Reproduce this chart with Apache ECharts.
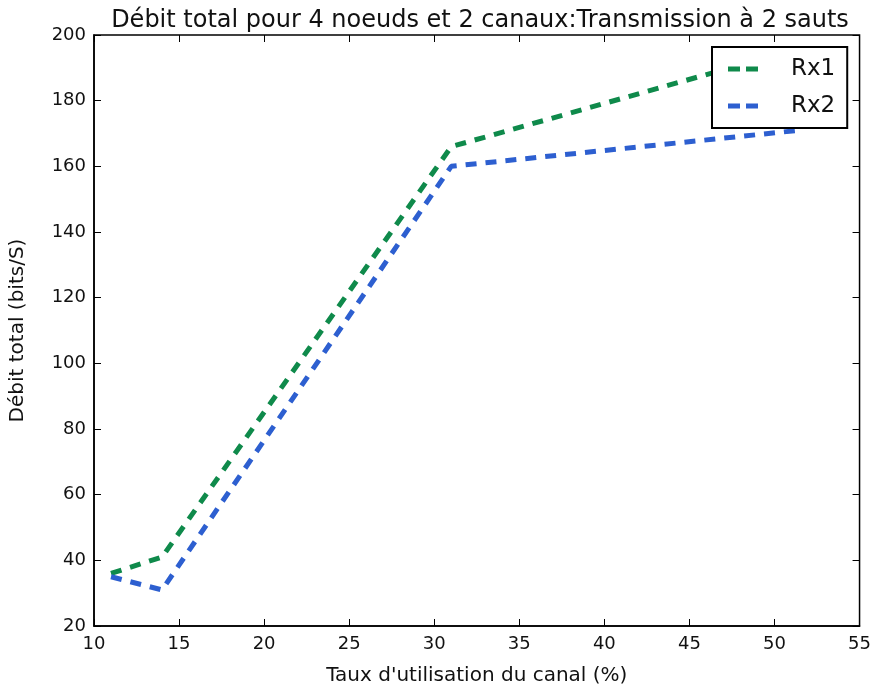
<!DOCTYPE html>
<html>
<head>
<meta charset="utf-8">
<script src="https://cdn.jsdelivr.net/npm/echarts@6/dist/echarts.min.js"></script>
<style>html,body{margin:0;padding:0;background:#fff;}#c{width:874px;height:691px;}</style>
</head>
<body>
<div id="c"></div>
<script>
const titleText = "Débit total pour 4 noeuds et 2 canaux:Transmission à 2 sauts";
const xName = "Taux d'utilisation du canal (%)";
const yName = "Débit total (bits/S)";
const xValues = [11, 14, 31, 51.5];
const rx1 = [36, 41, 166, 196];
const rx2 = [35, 31, 160, 171];
const seriesNames = ["Rx1", "Rx2"];

const FONT = "DejaVu Sans";
const chart = echarts.init(document.getElementById('c'));
const tickCommon = {inside: true, length: 7, lineStyle: {color: '#000', width: 1}};
const dashIcon = 'path://M0,0H12V5H0Z M18,0H30V5H18Z';
chart.setOption({
  backgroundColor: '#fff',
  animation: false,
  title: {
    text: titleText, left: 475, top: 4, textAlign: 'center',
    textStyle: {fontFamily: FONT, fontSize: 24, fontWeight: 'normal', color: '#111'}
  },
  legend: {
    orient: 'vertical', left: 712, top: 47,
    padding: [8, 12, 8, 16], itemGap: 9,
    borderColor: '#000', borderWidth: 2, backgroundColor: '#fff',
    itemWidth: 30, itemHeight: 5,
    textStyle: {fontFamily: FONT, fontSize: 23, color: '#111', padding: [0, 0, 0, 28], lineHeight: 28},
    data: seriesNames.map(n => ({name: n, icon: dashIcon}))
  },
  grid: {left: 91, right: 14, top: 35, bottom: 63, show: true, borderColor: '#000', borderWidth: 1.5},
  xAxis: [{
    type: 'value', min: 10, max: 55, interval: 5,
    name: xName, nameLocation: 'middle', nameGap: 40,
    nameTextStyle: {fontFamily: FONT, fontSize: 20, color: '#111'},
    axisLine: {show: true, lineStyle: {color: '#000', width: 1.5}},
    axisTick: tickCommon,
    axisLabel: {fontFamily: FONT, fontSize: 18, color: '#111', margin: 9},
    splitLine: {show: false}
  }, {
    type: 'value', min: 10, max: 55, interval: 5, position: 'top',
    axisLine: {show: false}, axisTick: tickCommon, axisLabel: {show: false}, splitLine: {show: false}
  }],
  yAxis: [{
    type: 'value', min: 20, max: 200, interval: 20,
    name: yName, nameLocation: 'middle', nameGap: 66,
    nameTextStyle: {fontFamily: FONT, fontSize: 20, color: '#111'},
    axisLine: {show: true, lineStyle: {color: '#000', width: 1.5}},
    axisTick: tickCommon,
    axisLabel: {fontFamily: FONT, fontSize: 18, color: '#111', margin: 8},
    splitLine: {show: false}
  }, {
    type: 'value', min: 20, max: 200, interval: 20, position: 'right',
    axisLine: {show: false}, axisTick: tickCommon, axisLabel: {show: false}, splitLine: {show: false}
  }],
  series: [{
    name: seriesNames[0], type: 'line', showSymbol: false, symbol: 'none',
    data: xValues.map((x, i) => [x, rx1[i]]),
    lineStyle: {color: '#0f8a4b', width: 5, type: [11, 9]},
    itemStyle: {color: '#0f8a4b'}
  }, {
    name: seriesNames[1], type: 'line', showSymbol: false, symbol: 'none',
    data: xValues.map((x, i) => [x, rx2[i]]),
    lineStyle: {color: '#2d5fd0', width: 5, type: [11, 9]},
    itemStyle: {color: '#2d5fd0'}
  }]
});
</script>
</body>
</html>
